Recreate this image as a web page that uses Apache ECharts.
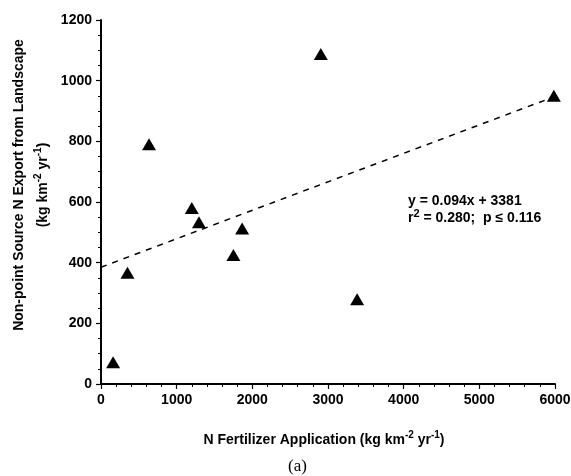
<!DOCTYPE html>
<html>
<head>
<meta charset="utf-8">
<script src="https://cdn.jsdelivr.net/npm/echarts@6/dist/echarts.min.js"></script>
<style>
  html, body { margin: 0; padding: 0; background: #fff; }
  #chart { width: 571px; height: 476px; }
</style>
</head>
<body>
<div id="chart"></div>
<script>
// fertilizer application (x) vs non-point source N export (y)
var fertX = [160, 350, 635, 1200, 1295, 1750, 1865, 2905, 3385, 5985];
var exportY = [72, 367, 790, 580, 533, 425, 513, 1088, 279, 950];
// dashed regression line end points
var trendX = [0, 6000];
var trendY = [385, 948];

var FONT = 'Liberation Sans, Arial, sans-serif';

function makeScatter(divId) {
    var myChart = echarts.init(document.getElementById(divId), null, {renderer: 'canvas'});

    var pts = [];
    for (var i = 0; i < fertX.length; i++) {
        pts.push([fertX[i], exportY[i]]);
    }
    var line = [];
    for (var j = 0; j < trendX.length; j++) {
        line.push([trendX[j], trendY[j]]);
    }

    var rich = {
        t: {fontSize: 14, fontWeight: 'bold', fontFamily: FONT, color: '#000', verticalAlign: 'bottom'},
        s: {fontSize: 10, fontWeight: 'bold', fontFamily: FONT, color: '#000', verticalAlign: 'bottom', padding: [0, 0, 7, 0]}
    };

    var option = {
        animation: false,
        backgroundColor: '#fff',
        grid: {left: 101, right: 16, top: 20, bottom: 92, containLabel: false, outerBoundsMode: 'none'},
        xAxis: {
            type: 'value',
            min: 0, max: 6000, interval: 1000,
            name: '{t|N Fertilizer Application (kg km}{s|-2}{t| yr}{s|-1}{t|)}',
            nameLocation: 'middle',
            nameGap: 46,
            nameTextStyle: {rich: rich, padding: [0, 8, 0, 0]},
            axisLine: {show: true, lineStyle: {color: '#000', width: 2}},
            axisTick: {show: true, length: 5, lineStyle: {color: '#000', width: 1.2}},
            minorTick: {show: true, splitNumber: 5, length: 3, lineStyle: {color: '#000', width: 1}},
            axisLabel: {color: '#000', fontSize: 14, fontWeight: 'bold', fontFamily: FONT, margin: 9,
                formatter: function (v) { return String(v); }},
            splitLine: {show: false}
        },
        yAxis: {
            type: 'value',
            min: 0, max: 1200, interval: 200,
            name: '{t|Non-point Source N Export from Landscape}\n{t|(kg km}{s|-2}{t| yr}{s|-1}{t|)}',
            nameLocation: 'middle',
            nameRotate: 90,
            nameGap: 50,
            nameTextStyle: {rich: rich, lineHeight: 24, padding: [0, 0, 0, 34]},
            axisLine: {show: true, lineStyle: {color: '#000', width: 2}},
            axisTick: {show: true, length: 5, lineStyle: {color: '#000', width: 1.2}},
            minorTick: {show: true, splitNumber: 4, length: 3, lineStyle: {color: '#000', width: 1}},
            axisLabel: {color: '#000', fontSize: 14, fontWeight: 'bold', fontFamily: FONT, margin: 9,
                formatter: function (v) { return String(v); }},
            splitLine: {show: false}
        },
        graphic: [
            {
                type: 'text', left: 408, top: 194,
                style: {text: 'y = 0.094x + 3381', font: 'bold 14px ' + FONT, fill: '#000'}
            },
            {
                type: 'text', left: 408, top: 208,
                style: {
                    text: '{t|r}{s|2}{t| = 0.280;  p ≤ 0.116}',
                    rich: {
                        t: {font: 'bold 14px ' + FONT, fill: '#000', verticalAlign: 'bottom'},
                        s: {font: 'bold 11px ' + FONT, fill: '#000', verticalAlign: 'bottom', padding: [0, 0, 6, 0]}
                    }
                }
            },
            {
                type: 'text', left: 288, top: 458,
                style: {text: '(a)', font: '17px Liberation Serif, Times New Roman, serif', fill: '#000'}
            }
        ],
        series: [
            {
                type: 'line',
                data: line,
                symbol: 'none',
                lineStyle: {color: '#000', width: 1.5, type: [6, 6]},
                z: 2
            },
            {
                type: 'scatter',
                data: pts,
                symbol: 'triangle',
                symbolSize: [14, 12],
                itemStyle: {color: '#000', opacity: 1},
                z: 3
            }
        ]
    };

    myChart.setOption(option);
}

makeScatter('chart');
</script>
</body>
</html>
